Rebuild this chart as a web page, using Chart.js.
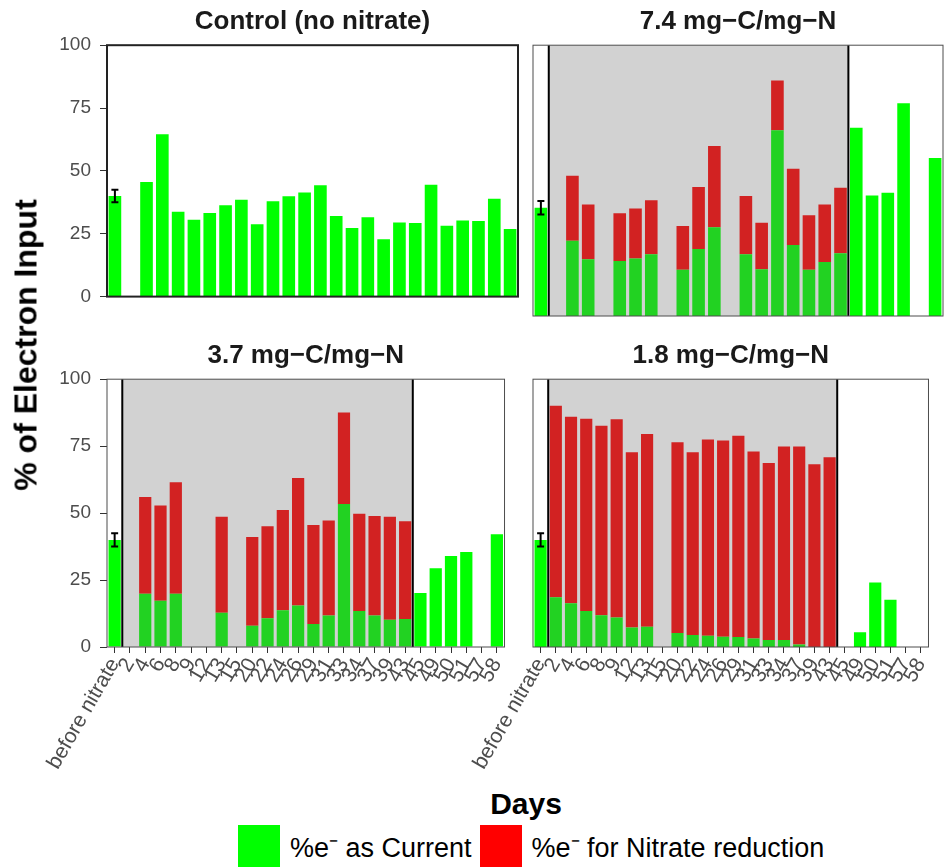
<!DOCTYPE html>
<html>
<head>
<meta charset="utf-8">
<title>% of Electron Input</title>
<script src="https://cdn.jsdelivr.net/npm/chart.js@4.4.1/dist/chart.umd.min.js"></script>
<style>
  body { margin: 0; background: #fff; font-family: 'Liberation Sans', Arial, sans-serif; }
  #wrap { position: relative; width: 944px; height: 867px; overflow: hidden; }
  canvas { position: absolute; }
  #ytitle { position: absolute; left: 26px; top: 345px; transform: translate(-50%, -50%) rotate(-90deg);
            font-weight: bold; font-size: 32px; white-space: nowrap; color: #000; }
  #xtitle { position: absolute; left: 526px; top: 804px; transform: translate(-50%, -50%);
            font-weight: bold; font-size: 30px; color: #000; }
  #legend { position: absolute; left: 238px; top: 825px; display: flex; align-items: center; font-size: 27px; color: #000; }
  .key { width: 42px; height: 42px; margin-right: 10px; }
  .lbl { margin-right: 8px; }
</style>
</head>
<body>
<div id="wrap">
  <canvas id="pControl" width="520" height="317" style="left:0;top:0"></canvas>
  <canvas id="p74" width="519" height="317" style="left:425px;top:0"></canvas>
  <canvas id="p37" width="520" height="448" style="left:0;top:334px"></canvas>
  <canvas id="p18" width="519" height="448" style="left:425px;top:334px"></canvas>
  <div id="ytitle">% of Electron Input</div>
  <div id="xtitle">Days</div>
  <div id="legend">
    <div class="key" style="background:#00FF00"></div><span class="lbl">%e⁻ as Current</span>
    <div class="key" style="background:#FF0000"></div><span class="lbl">%e⁻ for Nitrate reduction</span>
  </div>
</div>
<script>
// --- Data ---
const days = ['before nitrate', '2', '4', '6', '8', '9', '12', '13', '15', '20', '22', '24', '26',
              '29', '31', '33', '34', '37', '39', '43', '45', '49', '50', '51', '57', '58'];
const yTicks = [0, 25, 50, 75, 100];

const controlCurrent = [40, null, 45.6, 64.6, 33.8, 30.6, 33.3, 36.3, 38.5, 28.8, 37.9, 39.9, 41.4,
                        44.3, 32.1, 27.3, 31.6, 22.8, 29.5, 29.3, 44.5, 28.2, 30.3, 30.1, 38.9, 26.9];
const controlNitrate = new Array(days.length).fill(null);

const c74Current = [40, null, 27.8, 21.0, null, 20.3, 21.2, 22.8, null, 17.1, 24.7, 32.8, null,
                    22.8, 17.3, 68.6, 26.2, 17.1, 19.9, 23.2, 69.5, 44.5, 45.5, 78.6, null, 58.3];
const c74Nitrate = [null, null, 24.0, 20.2, null, 17.6, 18.5, 19.9, null, 16.1, 22.9, 30.0, null,
                    21.5, 17.1, 18.4, 28.2, 20.1, 21.3, 24.2, null, null, null, null, null, null];

const c37Current = [40, null, 19.9, 17.3, 19.9, null, null, 12.8, null, 7.9, 10.7, 13.7, 15.5,
                    8.6, 11.8, 53.4, 13.4, 11.8, 10.2, 10.5, 20.2, 29.4, 34.0, 35.5, null, 42.1];
const c37Nitrate = [null, null, 36.1, 35.5, 41.6, null, null, 35.8, null, 33.2, 34.4, 37.5, 47.6,
                    37.0, 35.4, 34.2, 36.4, 37.1, 38.4, 36.5, null, null, null, null, null, null];

const c18Current = [40, 18.6, 16.3, 13.4, 11.9, 11.0, 7.3, 7.6, null, 5.2, 4.5, 4.2, 3.8,
                    3.7, 3.2, 2.6, 2.6, 0.9, 0, 0, null, 5.5, 24.1, 17.6, null, null];
const c18Nitrate = [null, 71.5, 69.7, 71.8, 70.7, 74.0, 65.4, 71.9, null, 71.3, 68.2, 73.3, 73.3,
                    75.2, 69.8, 66.1, 72.3, 74.0, 68.2, 70.9, null, null, null, null, null, null];

// before-nitrate mean +/- error (all panels)
const baselineErr = [2.5];
// nitrate-fed period: first and last day index
const nitratePeriod = [1, 19];

// --- Panel decorations: shaded nitrate period, vertical lines, error bar, border ---
const panelDecor = {
    id: 'panelDecor',
    afterDatasetsDraw(chart, args, opts) {
        const { ctx, chartArea: a, scales: { x, y } } = chart;
        ctx.save();
        if (opts.shade) {
            const left = (x.getPixelForValue(nitratePeriod[0] - 1) + x.getPixelForValue(nitratePeriod[0])) / 2;
            const right = (x.getPixelForValue(nitratePeriod[1]) + x.getPixelForValue(nitratePeriod[1] + 1)) / 2;
            ctx.fillStyle = 'rgba(110,110,110,0.31)';
            ctx.fillRect(left, a.top, right - left, a.bottom - a.top);
            ctx.strokeStyle = '#000';
            ctx.lineWidth = 2;
            ctx.beginPath();
            ctx.moveTo(left, a.top); ctx.lineTo(left, a.bottom);
            ctx.moveTo(right, a.top); ctx.lineTo(right, a.bottom);
            ctx.stroke();
        }
        // error bar on the before-nitrate bar
        const cx = x.getPixelForValue(0);
        const mean = chart.data.datasets[0].data[0];
        const yHi = y.getPixelForValue(mean + baselineErr[0]);
        const yLo = y.getPixelForValue(mean - baselineErr[0]);
        ctx.strokeStyle = '#000';
        ctx.lineWidth = 2;
        ctx.beginPath();
        ctx.moveTo(cx, yHi); ctx.lineTo(cx, yLo);
        ctx.moveTo(cx - 3.5, yHi); ctx.lineTo(cx + 3.5, yHi);
        ctx.moveTo(cx - 3.5, yLo); ctx.lineTo(cx + 3.5, yLo);
        ctx.stroke();
        // panel border
        ctx.strokeStyle = opts.borderColor || '#4d4d4d';
        ctx.lineWidth = opts.borderWidth || 1;
        ctx.strokeRect(a.left, a.top, a.right - a.left, a.bottom - a.top);
        ctx.restore();
    }
};

function makePanel(id, title, current, nitrate, cfg) {
    const ctx = document.getElementById(id).getContext('2d');
    return new Chart(ctx, {
        type: 'bar',
        data: {
            labels: days,
            datasets: [
                { label: '%e⁻ as Current', data: current, backgroundColor: '#00FF00', borderWidth: 0,
                  barPercentage: 0.8, categoryPercentage: 1.0 },
                { label: '%e⁻ for Nitrate reduction', data: nitrate, backgroundColor: '#FF0000', borderWidth: 0,
                  barPercentage: 0.8, categoryPercentage: 1.0 }
            ]
        },
        options: {
            responsive: false,
            animation: false,
            layout: { padding: cfg.padding },
            plugins: {
                legend: { display: false },
                tooltip: { enabled: false },
                title: {
                    display: true, text: title, fullSize: false, color: '#1a1a1a',
                    font: { family: "'Liberation Sans', Arial, sans-serif", size: 26, weight: 'bold', lineHeight: 1.2 },
                    padding: { top: 6, bottom: 8 }
                },
                panelDecor: { shade: cfg.shade, borderWidth: cfg.borderWidth, borderColor: cfg.borderColor }
            },
            scales: {
                x: {
                    stacked: true,
                    display: cfg.showX,
                    grid: { display: true, drawOnChartArea: false, drawTicks: true, tickLength: 6,
                            color: '#333', offset: false },
                    border: { display: false },
                    ticks: { autoSkip: false, maxRotation: 60, minRotation: 60, padding: 1, color: '#4d4d4d',
                             font: { family: "'Liberation Sans', Arial, sans-serif", size: 21 } },
                    afterFit: (scale) => { if (cfg.showX) scale.height = 135; }
                },
                y: {
                    stacked: true,
                    min: 0, max: 100,
                    afterBuildTicks: (scale) => { scale.ticks = yTicks.map(v => ({ value: v })); },
                    grid: { display: cfg.showY, drawOnChartArea: false, drawTicks: true, tickLength: 7, color: '#333' },
                    border: { display: false },
                    ticks: { display: cfg.showY, padding: 9, color: '#4d4d4d',
                             font: { family: "'Liberation Sans', Arial, sans-serif", size: 19 } },
                    afterFit: (scale) => { scale.width = 107; }
                }
            }
        },
        plugins: [panelDecor]
    });
}

makePanel('pControl', 'Control (no nitrate)', controlCurrent, controlNitrate,
    { padding: { left: 0, right: 2, top: 0, bottom: 1 }, showX: false, showY: true, shade: false, borderWidth: 2, borderColor: '#222' });
makePanel('p74', '7.4 mg\u2212C/mg\u2212N', c74Current, c74Nitrate,
    { padding: { left: 1, right: 1, top: 0, bottom: 1 }, showX: false, showY: false, shade: true });
makePanel('p37', '3.7 mg\u2212C/mg\u2212N', c37Current, c37Nitrate,
    { padding: { left: 0, right: 3, top: 0, bottom: 0 }, showX: true, showY: true, shade: true });
makePanel('p18', '1.8 mg\u2212C/mg\u2212N', c18Current, c18Nitrate,
    { padding: { left: 1, right: 1, top: 0, bottom: 0 }, showX: true, showY: false, shade: true });
</script>
</body>
</html>
